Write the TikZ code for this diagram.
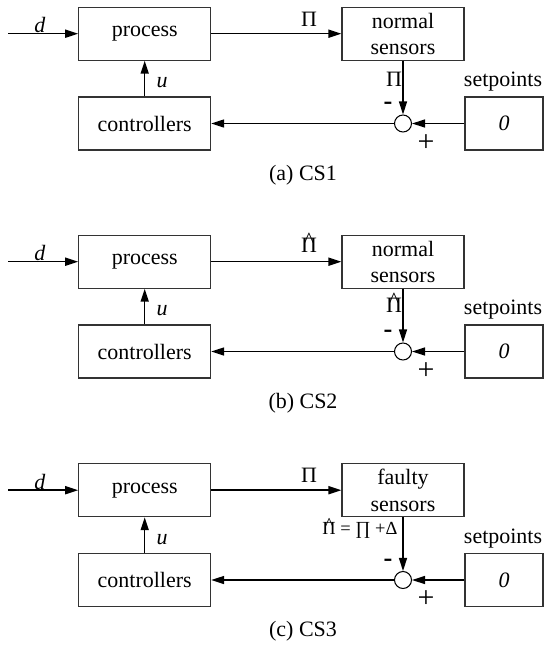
\documentclass[tikz,border=0pt]{standalone}
\usepackage{fontspec}
\setmainfont{Liberation Serif}
\usetikzlibrary{arrows.meta}
\newcommand{\pihat}{\ooalign{Π\cr\hidewidth\raisebox{0.22em}{\^{}}\hidewidth\cr}}
\tikzset{
  blk/.style={draw=black!80, line width=0.6pt, minimum width=2.64cm, minimum height=1.06cm, align=center, inner sep=1pt},
  sensblk/.style={blk, minimum width=2.44cm},
  spbox/.style={draw=black!80, line width=0.6pt, minimum width=1.56cm, minimum height=1.06cm, inner sep=1pt},
  sumpt/.style={draw, circle, line width=0.6pt, minimum size=0.34cm, inner sep=0pt},
  sig/.style={line width=0.9pt, -{Triangle[length=2.6mm,width=1.6mm]}},
  sgn/.style={inner sep=0pt, font=\fontsize{15}{15}\selectfont\bfseries},
  plsgn/.style={inner sep=0pt, font=\fontsize{17}{17}\selectfont},
}

\begin{document}
\begin{tikzpicture}[x=0.02cm, y=-0.02cm, font=\fontsize{12.5}{15}\selectfont]
			\useasboundingbox (0,0) rectangle (544,646);
			
			%%%%% (a) CS1 %%%%%
			\node[blk] (proc1) at (144.7,33.7) {process};
			\node[sensblk] (sens1) at (403,33.7) {normal\\sensors};
			\node[blk] (ctrl1) at (144.7,123.5) {controllers};
			\node[spbox] (sp1) at (504,123.5) {\textit{0}};
			\node[sumpt] (sum1) at (403,123.5) {};
			\coordinate (din1) at (8,33.7);
			
			\draw[sig] (din1) -- (proc1);
			\draw[sig] (proc1) -- (sens1);
			\draw[sig] (ctrl1) -- (proc1);
			\draw[sig] (sens1) -- (sum1);
			\draw[sig] (sp1) -- (sum1);
			\draw[sig] (sum1) -- (ctrl1);
			
			\node (d1) at (40,25) {\textit{d}};
			\node (pi1) at (309,19) {Π};
			\node (u1) at (162,83) {\textit{u}};
			\node (pis1) at (394,79) {Π};
			\node[sgn] (mn1) at (388,106) {-};
			\node[plsgn] (pl1) at (426,143) {+};
			\node (spl1) at (503,82) {setpoints};
			\node (cap1) at (303,175) {(a) CS1};
			
			%%%%% (b) CS2 %%%%%
			\node[blk] (proc2) at (144.7,261.7) {process};
			\node[sensblk] (sens2) at (403,261.7) {normal\\sensors};
			\node[blk] (ctrl2) at (144.7,351.5) {controllers};
			\node[spbox] (sp2) at (504,351.5) {\textit{0}};
			\node[sumpt] (sum2) at (403,351.5) {};
			\coordinate (din2) at (8,261.7);
			
			\draw[sig] (din2) -- (proc2);
			\draw[sig] (proc2) -- (sens2);
			\draw[sig] (ctrl2) -- (proc2);
			\draw[sig] (sens2) -- (sum2);
			\draw[sig] (sp2) -- (sum2);
			\draw[sig] (sum2) -- (ctrl2);
			
			\node (d2) at (40,253) {\textit{d}};
			\node (pi2) at (309,245) {\pihat};
			\node (u2) at (162,311) {\textit{u}};
			\node (pis2) at (394,305) {\pihat};
			\node[sgn] (mn2) at (388,334) {-};
			\node[plsgn] (pl2) at (426,371) {+};
			\node (spl2) at (503,310) {setpoints};
			\node (cap2) at (303,403) {(b) CS2};
			
			%%%%% (c) CS3 %%%%%
			\node[blk] (proc3) at (144.7,490.2) {process};
			\node[sensblk] (sens3) at (403,490.2) {faulty\\sensors};
			\node[blk] (ctrl3) at (144.7,580) {controllers};
			\node[spbox] (sp3) at (504,580) {\textit{0}};
			\node[sumpt] (sum3) at (403,580) {};
			\coordinate (din3) at (8,490.2);
			
			\draw[sig] (din3) -- (proc3);
			\draw[sig] (proc3) -- (sens3);
			\draw[sig] (ctrl3) -- (proc3);
			\draw[sig] (sens3) -- (sum3);
			\draw[sig] (sp3) -- (sum3);
			\draw[sig] (sum3) -- (ctrl3);
			
			\node (d3) at (40,481.5) {\textit{d}};
			\node (pi3) at (309,475.5) {Π};
			\node (u3) at (162,539.5) {\textit{u}};
			\node[font=\fontsize{10.5}{12}\selectfont, inner sep=0pt] (pis3) at (360,530) {\pihat{} = ∏ +Δ};
			\node[sgn] (mn3) at (388,562.5) {-};
			\node[plsgn] (pl3) at (426,599.5) {+};
			\node (spl3) at (503,538.5) {setpoints};
			\node (cap3) at (303,631) {(c) CS3};
			
\end{tikzpicture}
\end{document}
